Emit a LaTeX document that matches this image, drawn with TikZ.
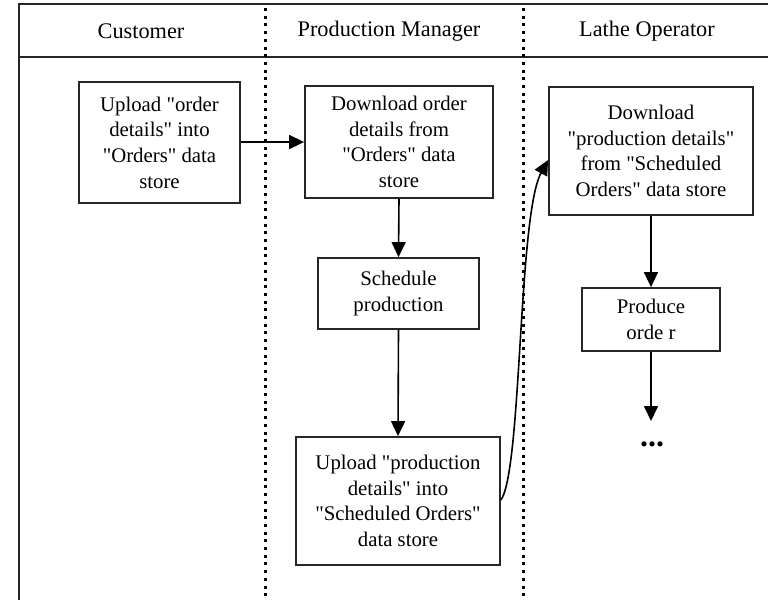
\documentclass[tikz,border=0pt]{standalone}
\usepackage{fontspec}
\setmainfont{Liberation Serif}[Ligatures=TeXOff]
\usetikzlibrary{arrows.meta}
\tikzset{
  frameline/.style={line width=2.2pt, black!85},
  laneline/.style={line width=3pt, dash pattern=on 3pt off 4.7pt},
  procbox/.style={draw, line width=1.8pt, black!85, text=black, inner sep=0pt, align=center,
    font=\fontsize{20.8}{25.7}\selectfont},
  header/.style={font=\fontsize{22.3}{25}\selectfont, inner sep=0pt},
  flow/.style={line width=1.6pt, -{Triangle[length=15pt,width=14pt]}},
}
\begin{document}
\begin{tikzpicture}[x=1pt,y=-1pt]
\useasboundingbox (0,0) rectangle (768,600);
% frame
\draw[frameline] (768,4) -- (19,4) -- (19,600);
\draw[frameline] (19,57) -- (768,57);
\draw[laneline] (265,8) -- (265,600);
\draw[laneline] (523,8) -- (523,600);
% headers
\node[header] (h1) at (141,31) {Customer};
\node[header] (h2) at (389,31) {Production Manager};
\node[header] (h3) at (647,31) {Lathe Operator};
% boxes
\node[procbox, minimum width=161pt, minimum height=121pt] (b1) at (159.5,142.5)
  {Upload "order\\details" into\\"Orders" data\\store};
\node[procbox, minimum width=188pt, minimum height=112pt] (b2) at (399,142)
  {Download order\\details from\\"Orders" data\\store};
\node[procbox, minimum width=161pt, minimum height=71pt] (b3) at (398.5,293.5)
  {Schedule\\production};
\node[procbox, minimum width=204pt, minimum height=128pt] (b4) at (398,501)
  {Upload "production\\details" into\\"Scheduled Orders"\\data store};
\node[procbox, minimum width=204pt, minimum height=128pt] (b5) at (651,151)
  {Download\\"production details"\\from "Scheduled\\Orders" data store};
\node[procbox, minimum width=138pt, minimum height=63pt] (b6) at (651,319.5)
  {Produce\\orde r};
\node[font=\fontsize{32}{32}\selectfont\bfseries, inner sep=0pt] (dots) at (652,444) {...};
\coordinate (dtop) at (651,421);
% connectors
\draw[flow] (b1.east |- 0,142) -- (b2.west |- 0,142);
\draw[flow] (b2.south) -- (b3.north);
\draw[flow] (b3.south) -- (b4.north);
\draw[flow] (b5.south) -- (b6.north);
\draw[flow] (b6.south) -- (dtop);
\draw[flow] (b4.east |- 0,500) .. controls (522,470) and (518,215) .. (b5.west |- 0,160);
\end{tikzpicture}
\end{document}
